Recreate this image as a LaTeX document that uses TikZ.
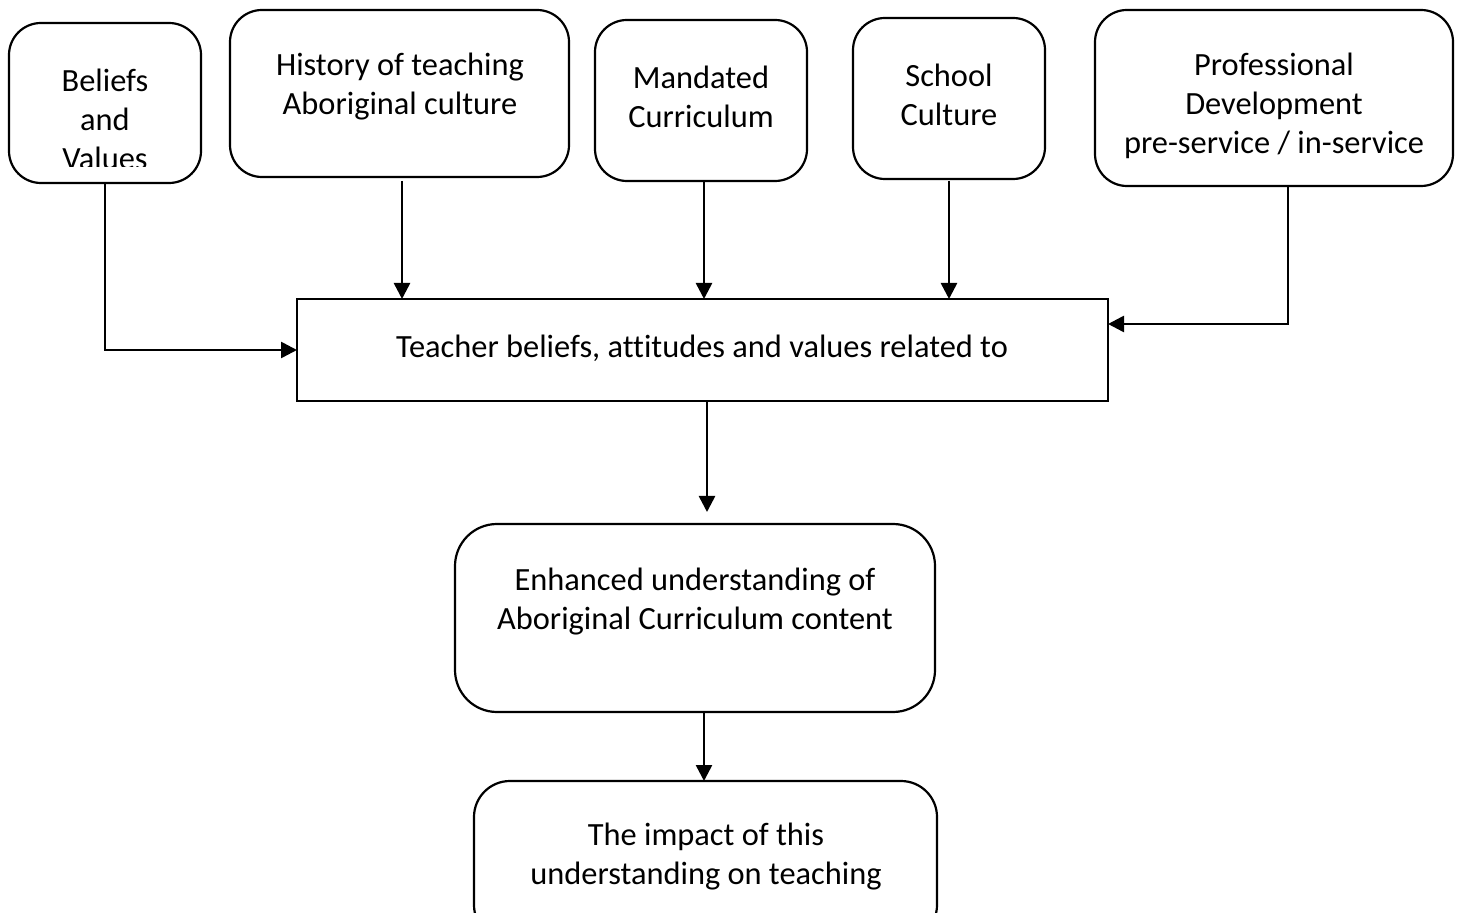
\documentclass[tikz,border=0pt]{standalone}
\usepackage{fontspec}
\setmainfont{Carlito}[Ligatures=NoCommon]
\usetikzlibrary{arrows.meta}
\begin{document}
\begin{tikzpicture}[x=0.5pt,y=-0.5pt,
  rbox/.style={draw,line width=1.1pt,rounded corners=16pt,inner sep=0pt,outer sep=0pt},
  sbox/.style={draw,line width=1pt,inner sep=0pt,outer sep=0pt},
  txt/.style={align=center,inner sep=0pt,font=\fontsize{16.2}{19.5}\selectfont},
  arr/.style={line width=1.3pt,-{Triangle[length=8pt,width=8pt]}}]
\useasboundingbox (0,0) rectangle (1460,913);
% boxes
\node[rbox,minimum width=96pt,minimum height=80pt] (bel) at (105,103) {};
\node[rbox,minimum width=169.5pt,minimum height=83.5pt] (hist) at (399.5,93.5) {};
\node[rbox,minimum width=106pt,minimum height=80.5pt] (mand) at (701,100.5) {};
\node[rbox,minimum width=96pt,minimum height=80.5pt] (sch) at (949,98.5) {};
\node[rbox,minimum width=179pt,minimum height=88pt] (prof) at (1274,98) {};
\node[sbox,minimum width=405.5pt,minimum height=51pt] (teach) at (702.5,350) {};
\node[rbox,rounded corners=21pt,minimum width=240pt,minimum height=94pt] (enh) at (695,618) {};
\node[rbox,rounded corners=18pt,minimum width=231.5pt,minimum height=80pt] (imp) at (705.5,861) {};
% texts
\begin{scope}
\clip (9,23) rectangle (201,167);
\node[txt] (belT) at (105,119) {Beliefs\\and\\Values};
\end{scope}
\node[txt] (histT) at (400,86.5) {History of teaching\\Aboriginal culture};
\node[txt] (mandT) at (701,96.5) {Mandated\\Curriculum};
\node[txt] (schT) at (949,94.5) {School\\Culture};
\node[txt] (profT) at (1274,106) {Professional\\Development\\pre-service / in-service};
\node[txt] (teachT) at (702,348) {Teacher beliefs, attitudes and values related to};
\node[txt] (enhT) at (695,601.5) {Enhanced understanding of\\Aboriginal Curriculum content};
\node[txt] (impT) at (706,856.5) {The impact of this\\understanding on teaching};
% connectors
\coordinate (hs) at ([xshift=1.25pt,yshift=-2pt]hist.south);
\coordinate (ms) at ([xshift=1.5pt,yshift=-0.5pt]mand.south);
\coordinate (ss) at ([yshift=-1pt]sch.south);
\coordinate (ps) at ([xshift=7pt]prof.south);
\coordinate (pe) at ([yshift=13pt]teach.east);
\coordinate (ts) at ([xshift=2.25pt]teach.south);
\coordinate (en) at ([xshift=6pt,yshift=6pt]enh.north);
\draw[arr] (bel.south) |- (teach.west);
\draw[arr] (hs) -- (hs |- teach.north);
\draw[arr] (ms) -- (ms |- teach.north);
\draw[arr] (ss) -- (ss |- teach.north);
\draw[arr] (ps) |- (pe);
\draw[arr] (ts) -- (ts |- en);
\draw[arr] ([xshift=4.5pt]enh.south) -- ([xshift=-0.75pt]imp.north);
\end{tikzpicture}
\end{document}
